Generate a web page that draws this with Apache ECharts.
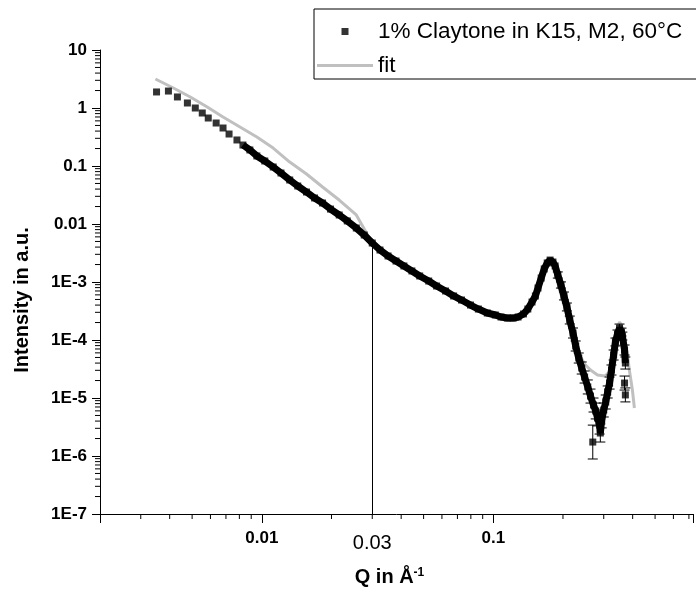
<!DOCTYPE html>
<html>
<head>
<meta charset="utf-8">
<script src="https://cdn.jsdelivr.net/npm/echarts/dist/echarts.min.js"></script>
<style>
  html, body { margin: 0; background: #fff; }
  #chart { width: 696px; height: 594px; }
</style>
</head>
<body>
<div id="chart"></div>
<script>
// measured data: Q (1/A) and intensity (a.u.)
const qData = [0.00351, 0.00395, 0.00432, 0.00477, 0.00516, 0.00553, 0.00587, 0.00635, 0.00680, 0.00722,
  0.00781, 0.00829, 0.00888, 0.00952, 0.0103, 0.0112, 0.0121, 0.0132, 0.0143, 0.0156,
  0.0169, 0.0183, 0.0198, 0.0216, 0.0234, 0.0256, 0.0277, 0.0300, 0.0324, 0.0351,
  0.0380, 0.0411, 0.0445, 0.0481, 0.0526, 0.0569, 0.0622, 0.0674, 0.0729, 0.0797,
  0.0862, 0.0942, 0.102, 0.108, 0.115, 0.122, 0.128, 0.135, 0.141, 0.147,
  0.152, 0.156, 0.161, 0.166, 0.171, 0.176, 0.181, 0.185, 0.190, 0.196,
  0.202, 0.208, 0.214, 0.221, 0.227, 0.234, 0.241, 0.248, 0.256, 0.263,
  0.271, 0.277, 0.282, 0.288, 0.290, 0.269, 0.294, 0.300, 0.306, 0.312,
  0.318, 0.324, 0.331, 0.337, 0.344, 0.351, 0.358, 0.361, 0.369, 0.372,
  0.369, 0.372];
const iData = [1.89, 1.96, 1.55, 1.22, 1.00, 0.82, 0.672, 0.551, 0.452, 0.356,
  0.281, 0.230, 0.189, 0.149, 0.122, 0.0961, 0.0757, 0.0574, 0.0452, 0.0356,
  0.0281, 0.0230, 0.0181, 0.0143, 0.0113, 0.00853, 0.00646, 0.0047, 0.00356, 0.00281,
  0.00230, 0.00189, 0.00155, 0.00127, 0.00104, 0.000853, 0.000700, 0.000574, 0.000489, 0.000401,
  0.000342, 0.000292, 0.000270, 0.000249, 0.000239, 0.000239, 0.000249, 0.000281, 0.000342, 0.000452,
  0.000574, 0.000788, 0.00117, 0.00168, 0.00213, 0.00239, 0.00221, 0.00189, 0.00132, 0.000888,
  0.000574, 0.000371, 0.000221, 0.000132, 7.88e-5, 4.89e-5, 3.29e-5, 2.30e-5, 1.55e-5, 1.08e-5,
  7.57e-6, 5.97e-6, 4.52e-6, 3.42e-6, 2.49e-6, 1.74e-6, 4.18e-6, 6.21e-6, 8.53e-6, 1.27e-5,
  1.81e-5, 3.04e-5, 5.51e-5, 9.24e-5, 1.27e-4, 1.61e-4, 1.37e-4, 1.17e-4, 6.72e-5, 4.01e-5,
  1.81e-5, 1.13e-5];
// error bars (ratio up/down) for points from errStart on
const errStart = 58;
const errRatio = [1.13, 1.13, 1.17, 1.17, 1.17, 1.22, 1.22, 1.22, 1.27, 1.27,
  1.32, 1.32, 1.32, 1.37, 1.37, 1.43, 1.43, 1.96, 1.37, 1.32,
  1.32, 1.27, 1.27, 1.22, 1.22, 1.17, 1.17, 1.17, 1.17, 1.17,
  1.22, 1.27, 1.32, 1.32];
const outlierIdx = 75;

// fit curve
const fitQ = [0.00347, 0.00415, 0.00491, 0.00581, 0.00680, 0.00805, 0.00952, 0.0112, 0.0132, 0.0156,
  0.0183, 0.0216, 0.0256, 0.0277, 0.0300, 0.0324, 0.0380, 0.0445, 0.0526, 0.0622,
  0.0729, 0.0862, 0.102, 0.115, 0.128, 0.141, 0.152, 0.161, 0.171, 0.177,
  0.185, 0.190, 0.204, 0.216, 0.232, 0.248, 0.263, 0.282, 0.303, 0.318,
  0.327, 0.334, 0.344, 0.351, 0.358, 0.369, 0.380, 0.387, 0.399, 0.407];
const fitI = [3.16, 2.21, 1.55, 1.04, 0.699, 0.470, 0.316, 0.204, 0.117, 0.0728,
  0.0435, 0.0259, 0.0143, 0.0082, 0.0047, 0.0039, 0.00249, 0.00161, 0.00104, 0.000700,
  0.000470, 0.000329, 0.000259, 0.000230, 0.000230, 0.000292, 0.000530, 0.00108, 0.00196, 0.00230,
  0.00196, 0.000961, 0.000356, 0.000137, 6.21e-5, 3.86e-5, 3.04e-5, 2.49e-5, 2.39e-5, 2.81e-5,
  4.52e-5, 8.88e-5, 1.61e-4, 2.04e-4, 1.81e-4, 1.13e-4, 5.51e-5, 3.04e-5, 1.37e-5, 6.72e-6];

const dataName = '1% Claytone in K15, M2, 60°C';
const markQ = 0.03, markI = 0.004;
const X_MIN = 0.002, X_MAX = 0.729, Y_MIN = 1e-7, Y_MAX = 10;

// minor tick positions
const xMinor = [];
const yMinor = [];
[-3, -2, -1].forEach(e => { for (let m = 2; m <= 9; m++) { const v = m * Math.pow(10, e); if (v > X_MIN && v < X_MAX) xMinor.push(v); } });
for (let e = -7; e <= 0; e++) { for (let m = 2; m <= 9; m++) yMinor.push(m * Math.pow(10, e)); }

const font = 'Liberation Sans, Arial, sans-serif';

function logLabel(v) {
  const lg = Math.log10(v);
  const e = Math.round(lg);
  if (Math.abs(lg - e) > 1e-6) return '';
  return e >= -2 ? String(+Math.pow(10, e).toFixed(Math.max(0, -e))) : '1E' + e;
}

const points = qData.map((q, i) => [q, iData[i]]);
const band = points.filter((p, i) => i >= 11 && i !== outlierIdx && i <= 89);
const errData = errRatio.map((r, k) => {
  const i = errStart + k;
  return [qData[i], iData[i] / r, iData[i] * r];
});
const fitData = fitQ.map((q, i) => [q, fitI[i]]);

const chart = echarts.init(document.getElementById('chart'));
chart.setOption({
  animation: false,
  backgroundColor: '#fff',
  grid: { left: 100, right: 0, top: 50, bottom: 80 },
  legend: {
    data: [
      { name: dataName, icon: 'path://M0,0L1,0L1,1L0,1Z' },
      { name: 'fit', icon: 'path://M0,0L56,0L56,3L0,3Z' }
    ],
    symbolKeepAspect: true,
    orient: 'vertical',
    left: 314, top: 9,
    padding: [11, 20, 2, 3],
    itemGap: 11,
    itemWidth: 56, itemHeight: 7,
    borderColor: '#000', borderWidth: 1,
    textStyle: { fontFamily: font, fontSize: 22.5, lineHeight: 22, color: '#000' }
  },
  xAxis: {
    type: 'log', logBase: 10, min: X_MIN, max: X_MAX,
    name: 'Q in Å{sup|-1}',
    nameLocation: 'middle', nameGap: 53,
    nameTextStyle: {
      fontFamily: font, fontSize: 20, fontWeight: 'bold', color: '#000',
      padding: [0, 14, 0, 0],
      rich: { sup: { fontFamily: font, fontSize: 12, fontWeight: 'bold', verticalAlign: 'top', lineHeight: 12 } }
    },
    axisLine: { lineStyle: { color: '#000', width: 1 } },
    axisTick: { length: 9, lineStyle: { color: '#000' } },
    axisLabel: { formatter: logLabel, margin: 16, fontFamily: font, fontSize: 17, fontWeight: 'bold', color: '#000' },
    splitLine: { show: false }
  },
  yAxis: {
    type: 'log', logBase: 10, min: Y_MIN, max: Y_MAX,
    name: 'Intensity in a.u.',
    nameLocation: 'middle', nameGap: 68,
    nameTextStyle: { fontFamily: font, fontSize: 20, fontWeight: 'bold', color: '#000', padding: [0, 36, 0, 0] },
    axisLine: { lineStyle: { color: '#000', width: 1 } },
    axisTick: { length: 8, lineStyle: { color: '#000' } },
    axisLabel: { formatter: logLabel, margin: 13, fontFamily: font, fontSize: 17, fontWeight: 'bold', color: '#000' },
    splitLine: { show: false }
  },
  series: [
    {
      name: 'fit', type: 'line', data: fitData, symbol: 'none', smooth: false,
      lineStyle: { color: '#c0c0c0', width: 3 }, itemStyle: { color: '#c0c0c0' }, z: 1
    },
    {
      name: 'band', type: 'line', data: band, symbol: 'none',
      lineStyle: { color: '#000', width: 7 }, z: 2, silent: true
    },
    {
      name: 'err', type: 'custom', data: errData, z: 3, silent: true,
      encode: { x: 0, y: [1, 2] },
      renderItem: (params, api) => {
        const lo = api.coord([api.value(0), api.value(1)]);
        const hi = api.coord([api.value(0), api.value(2)]);
        const w = 5, st = { stroke: '#000', lineWidth: 1 };
        return { type: 'group', children: [
          { type: 'line', shape: { x1: lo[0], y1: lo[1], x2: hi[0], y2: hi[1] }, style: st },
          { type: 'line', shape: { x1: lo[0] - w, y1: lo[1], x2: lo[0] + w, y2: lo[1] }, style: st },
          { type: 'line', shape: { x1: hi[0] - w, y1: hi[1], x2: hi[0] + w, y2: hi[1] }, style: st }
        ] };
      }
    },
    {
      name: dataName, type: 'scatter', data: points, symbol: 'rect', symbolSize: 7,
      itemStyle: { color: '#000' }, z: 4,
      markLine: {
        silent: true, symbol: 'none',
        lineStyle: { color: '#000', width: 1, type: 'solid' },
        label: { show: true, position: 'start', formatter: '0.03', distance: 19,
          fontFamily: font, fontSize: 20, color: '#000' },
        data: [[{ coord: [markQ, Y_MIN] }, { coord: [markQ, markI] }]]
      }
    },
    {
      name: 'xminor', type: 'custom', data: xMinor.map(v => [v, Y_MIN]), silent: true, clip: false,
      renderItem: (params, api) => {
        const p = api.coord([api.value(0), Y_MIN]);
        return { type: 'line', shape: { x1: p[0], y1: p[1], x2: p[0], y2: p[1] + 5 }, style: { stroke: '#000', lineWidth: 1 } };
      }
    },
    {
      name: 'yminor', type: 'custom', data: yMinor.map(v => [X_MIN, v]), silent: true, clip: false,
      renderItem: (params, api) => {
        const p = api.coord([X_MIN, api.value(1)]);
        return { type: 'line', shape: { x1: p[0], y1: p[1], x2: p[0] - 5, y2: p[1] }, style: { stroke: '#000', lineWidth: 1 } };
      }
    }
  ]
});
</script>
</body>
</html>
